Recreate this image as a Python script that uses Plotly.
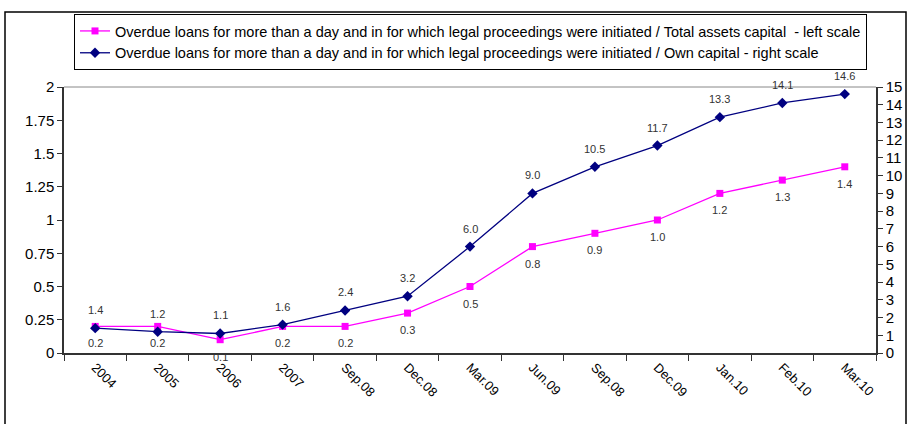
import plotly.graph_objects as go

categories = ["2004", "2005", "2006", "2007", "Sep.08", "Dec.08", "Mar.09", "Jun.09",
              "Sep.08 ", "Dec.09", "Jan.10", "Feb.10", "Mar.10"]
total_assets = [0.2, 0.2, 0.1, 0.2, 0.2, 0.3, 0.5, 0.8, 0.9, 1.0, 1.2, 1.3, 1.4]
own_capital = [1.4, 1.2, 1.1, 1.6, 2.4, 3.2, 6.0, 9.0, 10.5, 11.7, 13.3, 14.1, 14.6]

name1 = ("Overdue loans for more than a day and in for which legal proceedings were initiated "
         "/ Total assets capital  - left scale")
name2 = ("Overdue loans for more than a day and in for which legal proceedings were initiated "
         "/ Own capital - right scale")

FONT = "Liberation Sans, Arial, sans-serif"

fig = go.Figure()
fig.add_trace(go.Scatter(
    x=categories, y=total_assets, name=name1, mode="lines+markers",
    line=dict(color="#FF00FF", width=1.3),
    marker=dict(symbol="square", size=7, color="#FF00FF"),
    yaxis="y", cliponaxis=False,
))
fig.add_trace(go.Scatter(
    x=categories, y=own_capital, name=name2, mode="lines+markers",
    line=dict(color="#000080", width=1.3),
    marker=dict(symbol="diamond", size=8, color="#000080"),
    yaxis="y2", cliponaxis=False,
))

annotations = []
for i, v in enumerate(total_assets):
    annotations.append(dict(x=i, y=v, xref="x", yref="y", text=f"{v:.1f}",
                            showarrow=False, yshift=-17,
                            font=dict(size=11, color="#333333", family=FONT)))
for i, v in enumerate(own_capital):
    annotations.append(dict(x=i, y=v, xref="x", yref="y2", text=f"{v:.1f}",
                            showarrow=False, yshift=18,
                            font=dict(size=11, color="#333333", family=FONT)))

fig.update_layout(
    width=908, height=424,
    margin=dict(l=64, r=32, t=87, b=71, autoexpand=False),
    paper_bgcolor="white", plot_bgcolor="white",
    font=dict(family=FONT, color="black"),
    showlegend=True,
    annotations=annotations,
    legend=dict(
        xref="container", yref="container",
        x=74 / 908, y=1 - 14 / 424, xanchor="left", yanchor="top",
        bordercolor="black", borderwidth=1, bgcolor="white",
        font=dict(size=14.5, family=FONT), tracegroupgap=0,
    ),
    xaxis=dict(
        type="category", showgrid=False, showline=True, linecolor="#333333", linewidth=1.5,
        ticks="outside", ticklen=6, tickcolor="#333333", tickson="boundaries",
        tickangle=45, tickfont=dict(size=13), automargin=False,
        range=[-0.5, len(categories) - 0.5],
    ),
    yaxis=dict(
        range=[0, 2], dtick=0.25, showgrid=False, showline=True, linecolor="#333333",
        linewidth=1.5, ticks="outside", ticklen=5, tickcolor="#333333",
        tickfont=dict(size=15), zeroline=False, automargin=False,
    ),
    yaxis2=dict(
        range=[0, 15], dtick=1, overlaying="y", side="right", showgrid=False,
        showline=True, linecolor="#333333", linewidth=1.5, ticks="outside", ticklen=5,
        tickcolor="#333333", tickfont=dict(size=15), zeroline=False, automargin=False,
    ),
    shapes=[
        dict(type="line", xref="paper", yref="paper", x0=0, x1=1, y0=1, y1=1,
             line=dict(color="#888888", width=1)),
        dict(type="rect", xref="paper", yref="paper",
             x0=(5 - 64) / 812, x1=(906 - 64) / 812, y0=-0.5, y1=(353 - 12) / 266,
             line=dict(color="black", width=1.5), layer="below"),
    ],
)

fig.write_html("out.html", config={"displayModeBar": False},
               post_script="document.body.style.margin='0';")
